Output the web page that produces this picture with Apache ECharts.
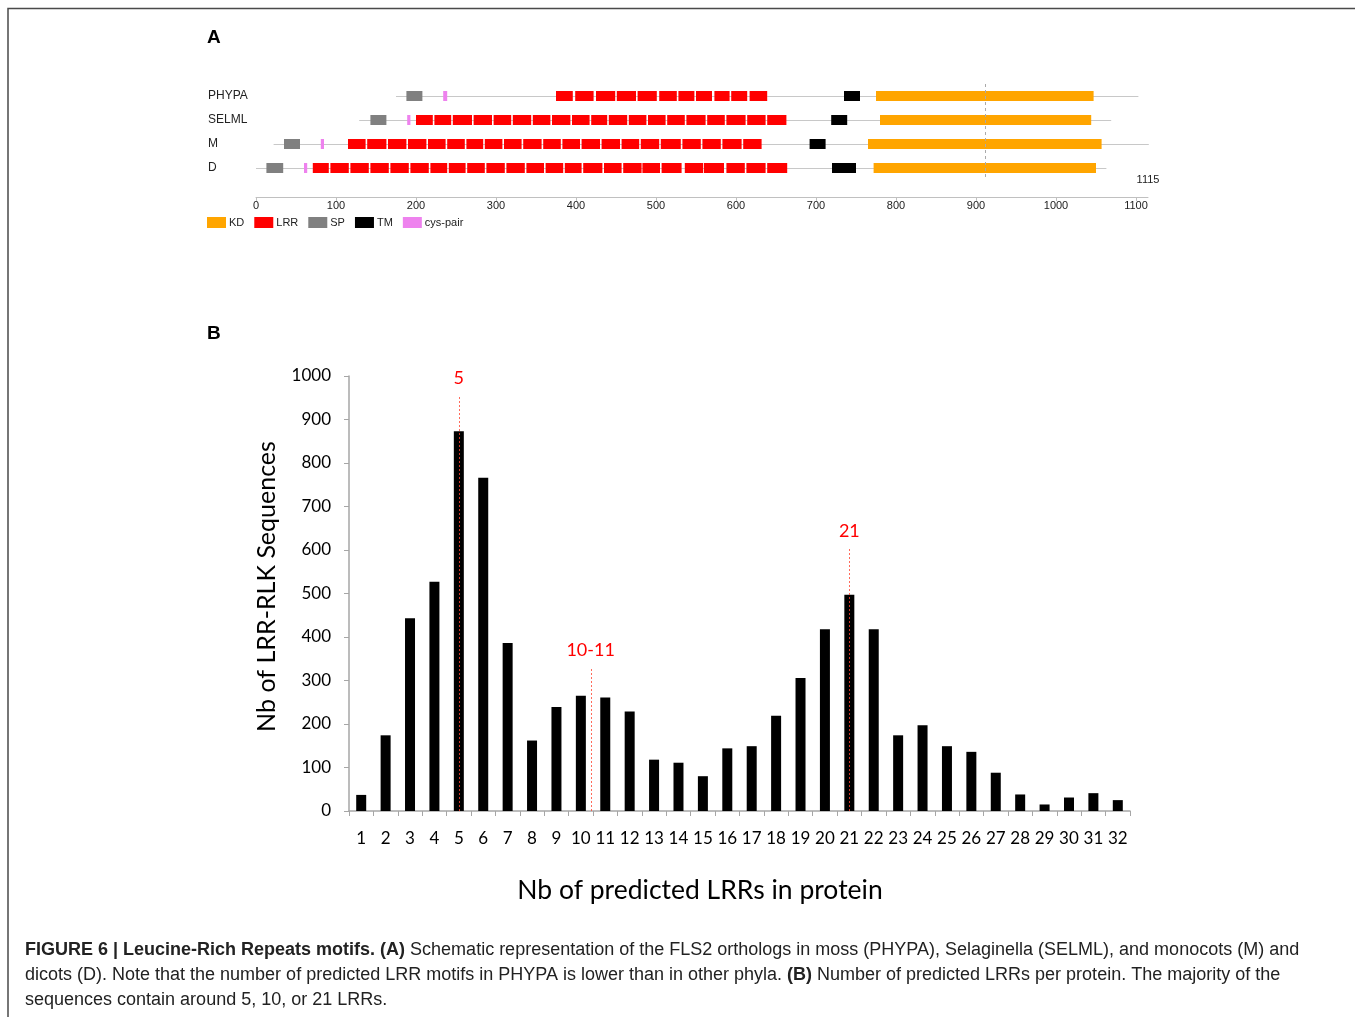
<!DOCTYPE html>
<html><head><meta charset="utf-8">
<script src="https://cdn.jsdelivr.net/npm/echarts/dist/echarts.min.js"></script>
<style>html,body{margin:0;padding:0;background:#fff}#c{width:1355px;height:1017px}</style>
</head><body><div id="c"></div>
<script>
// ---------- Panel A data (positions in amino acids) ----------
const proteins = ['PHYPA', 'SELML', 'M', 'D'];
const backbone = [[175, 1103], [129, 1069], [22, 1116], [0, 1063]];
const spRanges = [[188, 208], [143, 163], [35, 55], [13, 34]];
const cysRanges = [[234, 239], [189, 193], [81, 85], [60, 64]];
const tmRanges = [[735, 755], [719, 739], [692, 712], [720, 750]];
const kdRanges = [[775, 1047], [780, 1044], [765, 1057], [772, 1050]];
const lrrPHYPA = [[375,396],[399,422],[425,449],[451,475],[477,501],[504,526],[528,548],[550,570],[573,592],[594,614],[617,639]];
const lrrSELML = [[200,221],[223,244],[246,270],[272,295],[297,319],[321,344],[346,368],[370,393],[395,417],[419,439],[441,464],[466,488],[490,512],[514,536],[538,562],[564,586],[588,612],[614,637],[639,663]];
const lrrM = [[115,137],[139,163],[165,188],[190,213],[215,237],[239,261],[263,284],[286,308],[310,332],[334,357],[359,381],[383,405],[407,430],[432,455],[457,479],[481,504],[506,531],[533,556],[558,581],[583,607],[609,632]];
const lrrD = [[71,91],[93,116],[118,141],[143,166],[168,191],[193,216],[218,239],[241,262],[264,286],[288,311],[313,336],[338,360],[362,384],[386,407],[409,433],[435,457],[459,482],[483,505],[507,532],[536,559],[560,585],[588,611],[613,637],[639,664]];
const lengthAxisMax = 1115;
const kdMarker = 912;
const domainNames = ['KD', 'LRR', 'SP', 'TM', 'cys-pair'];
const domainColors = ['#FFA500', '#FF0000', '#808080', '#000000', '#EE82EE'];

// ---------- Panel B data ----------
const lrrCounts = ['1','2','3','4','5','6','7','8','9','10','11','12','13','14','15','16','17','18','19','20','21','22','23','24','25','26','27','28','29','30','31','32'];
const sequenceCounts = [37, 174, 443, 527, 873, 766, 386, 162, 239, 265, 261, 229, 118, 111, 80, 144, 149, 219, 306, 418, 497, 418, 174, 197, 149, 136, 88, 38, 15, 31, 41, 25];
const annotX = [5, 10.4, 21];
const annotTop = [955, 330, 605];
const annotLabels = ['5', '10-11', '21'];

const chart = echarts.init(document.getElementById('c'), null, {renderer: 'canvas'});

function toRows(ranges) { return ranges.map((r, i) => [r[0], i, r[1]]); }
const lrrData = [lrrPHYPA, lrrSELML, lrrM, lrrD].flatMap((blocks, i) => blocks.map(b => [b[0], i, b[1]]));
const domainData = [toRows(kdRanges), lrrData, toRows(spRanges), toRows(tmRanges), toRows(cysRanges)];

function rectItem(params, api) {
  const row = api.value(1);
  const p0 = api.coord([api.value(0), row]);
  const p1 = api.coord([api.value(2), row]);
  return {type: 'rect', shape: {x: p0[0], y: p0[1] - 5, width: p1[0] - p0[0], height: 10},
    style: {fill: api.visual('color')}};
}
function lineItem(params, api) {
  const row = api.value(1);
  const p0 = api.coord([api.value(0), row]);
  const p1 = api.coord([api.value(2), row]);
  return {type: 'line', shape: {x1: p0[0], y1: p0[1] + 0.5, x2: p1[0], y2: p1[1] + 0.5},
    style: {stroke: '#c8c8c8', lineWidth: 1}};
}

const FA = 'Liberation Sans, Arial, sans-serif';
const FB = 'Lato, sans-serif';
const plain = v => String(v);

const series = [
  {type: 'custom', name: 'backbone', xAxisIndex: 0, yAxisIndex: 0, clip: false, renderItem: lineItem,
   encode: {x: [0, 2], y: 1}, data: toRows(backbone), z: 1,
   markLine: {silent: true, symbol: 'none', animation: false,
     lineStyle: {type: [3, 3], color: '#aaaaaa', width: 1}, label: {show: false},
     data: [{xAxis: kdMarker}]}},
  {type: 'custom', name: 'lengthLabel', xAxisIndex: 0, yAxisIndex: 0, clip: false, z: 3,
   data: [[lengthAxisMax, proteins.length - 1]],
   renderItem: (params, api) => {
     const p = api.coord([api.value(0), api.value(1)]);
     return {type: 'text', x: p[0], y: p[1] + 12,
       style: {text: String(lengthAxisMax), fill: '#222', fontSize: 11, fontFamily: FA, align: 'center', verticalAlign: 'middle'}};
   }}
];
domainNames.forEach((n, k) => {
  series.push({type: 'custom', name: n, xAxisIndex: 0, yAxisIndex: 0, clip: false, z: 2,
    itemStyle: {color: domainColors[k]}, renderItem: rectItem, encode: {x: [0, 2], y: 1}, data: domainData[k]});
});
series.push({type: 'bar', name: 'counts', xAxisIndex: 1, yAxisIndex: 1, data: sequenceCounts,
  barWidth: 10, itemStyle: {color: '#000'}, z: 2});
series.push({type: 'custom', name: 'annot', xAxisIndex: 2, yAxisIndex: 1, clip: false, z: 5,
  data: annotX.map((x, i) => [x, annotTop[i]]),
  renderItem: (params, api) => {
    const x = api.value(0), top = api.value(1);
    const p0 = api.coord([x, 0]), p1 = api.coord([x, top]);
    return {type: 'group', children: [
      {type: 'line', shape: {x1: Math.round(p0[0]) + 0.5, y1: p0[1], x2: Math.round(p1[0]) + 0.5, y2: p1[1]},
       style: {stroke: 'rgba(255,70,50,0.8)', lineWidth: 1, lineDash: [2, 2]}},
      {type: 'text', x: p1[0], y: p1[1] - 8,
       style: {text: annotLabels[params.dataIndex], fill: '#ff0000', fontSize: 18, fontFamily: FB, align: 'center', verticalAlign: 'bottom'}}
    ]};
  }});

const option = {
  animation: false,
  backgroundColor: '#fff',
  grid: [
    {left: 256, top: 84, width: 892, height: 96, outerBoundsMode: 'none', containLabel: false},
    {left: 349, top: 376, width: 781, height: 435, outerBoundsMode: 'none', containLabel: false}
  ],
  xAxis: [
    {type: 'value', gridIndex: 0, min: 0, max: lengthAxisMax, interval: 100, offset: 17,
     axisLine: {show: true, lineStyle: {color: '#c0c0c0', width: 1}},
     axisTick: {show: true, length: 4, lineStyle: {color: '#c0c0c0'}},
     splitLine: {show: false},
     axisLabel: {fontSize: 11, fontFamily: FA, color: '#222', margin: 3, showMaxLabel: false, hideOverlap: false, formatter: plain}},
    {type: 'category', gridIndex: 1, data: lrrCounts, boundaryGap: true,
     axisLine: {show: true, lineStyle: {color: '#a6a6a6', width: 1.5}},
     axisTick: {show: true, length: 5, alignWithLabel: false, lineStyle: {color: '#a6a6a6'}},
     axisLabel: {fontSize: 17, fontFamily: FB, color: '#000', margin: 19, interval: 0, hideOverlap: false}},
    {type: 'value', gridIndex: 1, min: 0.5, max: 32.5, show: false}
  ],
  yAxis: [
    {type: 'category', gridIndex: 0, data: proteins, inverse: true,
     axisLine: {show: false}, axisTick: {show: false}, splitLine: {show: false},
     axisLabel: {align: 'left', margin: 48, fontSize: 12, fontFamily: FA, color: '#222'}},
    {type: 'value', gridIndex: 1, min: 0, max: 1000, interval: 100,
     name: 'Nb of LRR-RLK Sequences', nameLocation: 'middle', nameGap: 70, nameRotate: 90,
     nameTextStyle: {fontSize: 25, fontFamily: FB, color: '#000', padding: [0, 0, 0, 14]},
     axisLine: {show: true, lineStyle: {color: '#a6a6a6', width: 1.5}},
     axisTick: {show: true, length: 5, lineStyle: {color: '#a6a6a6'}},
     splitLine: {show: false},
     axisLabel: {fontSize: 17, fontFamily: FB, color: '#000', margin: 18, formatter: plain}}
  ],
  legend: {
    data: domainNames, left: 207, top: 217, icon: 'rect', itemWidth: 19, itemHeight: 11, itemGap: 10,
    selectedMode: false, padding: 0,
    textStyle: {fontSize: 11, fontFamily: FA, color: '#222', padding: [0, 0, 0, -2]}
  },
  graphic: [
    {type: 'polyline', shape: {points: [[8, 1017], [8, 8.5], [1355, 8.5]]}, style: {stroke: '#4a4a4a', lineWidth: 1.5, fill: null}},
    {type: 'text', left: 207, top: 28, style: {text: 'A', fontSize: 19, fontWeight: 'bold', fontFamily: FA, fill: '#000'}},
    {type: 'text', left: 207, top: 324, style: {text: 'B', fontSize: 19, fontWeight: 'bold', fontFamily: FA, fill: '#000'}},
    {type: 'text', x: 700, y: 890, style: {text: 'Nb of predicted LRRs in protein', fontSize: 26.5, fontFamily: FB, fill: '#000', align: 'center', verticalAlign: 'middle'}},
    {type: 'text', x: 25, y: 950, style: {
      text: '{b|FIGURE 6 | Leucine-Rich Repeats motifs. (A)} Schematic representation of the FLS2 orthologs in moss (PHYPA), Selaginella (SELML), and monocots (M) and',
      fontSize: 18, fontFamily: FA, fill: '#222', verticalAlign: 'middle',
      rich: {b: {fontWeight: 'bold', fontSize: 18, fontFamily: FA, fill: '#222'}}}},
    {type: 'text', x: 25, y: 975, style: {
      text: 'dicots (D). Note that the number of predicted LRR motifs in PHYPA is lower than in other phyla. {b|(B)} Number of predicted LRRs per protein. The majority of the',
      fontSize: 18, fontFamily: FA, fill: '#222', verticalAlign: 'middle',
      rich: {b: {fontWeight: 'bold', fontSize: 18, fontFamily: FA, fill: '#222'}}}},
    {type: 'text', x: 25, y: 1000, style: {
      text: 'sequences contain around 5, 10, or 21 LRRs.',
      fontSize: 18, fontFamily: FA, fill: '#222', verticalAlign: 'middle'}}
  ],
  series: series
};
chart.setOption(option);
</script></body></html>
